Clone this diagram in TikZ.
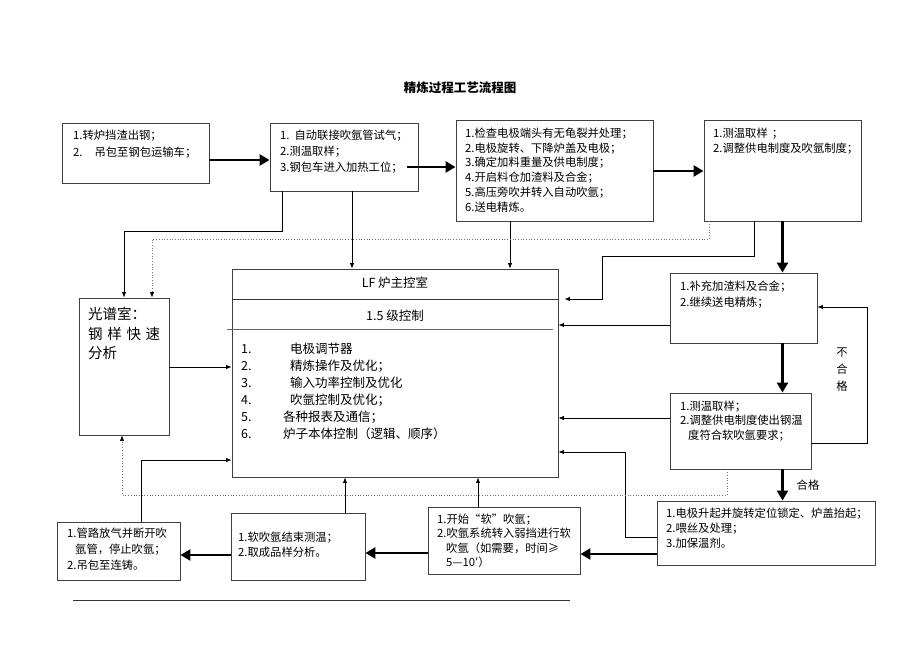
\documentclass[tikz,border=0pt]{standalone}
\usepackage{fontspec}
\setmainfont{Noto Sans CJK SC}
\usetikzlibrary{arrows.meta,fit,calc}
\newcommand\mytxt[2]{\parbox[t]{#1}{\raggedright #2}}
\begin{document}
\begin{tikzpicture}[x=1pt,y=-1pt,
  box/.style={draw=black!75, line width=0.9pt, inner sep=0pt},
  txt/.style={anchor=base west, inner sep=0pt},
  conn/.style={draw=black, line width=0.8pt, -{Latex[length=5.5pt,width=4.5pt]}},
  heavy/.style={draw=black, line width=2.8pt, -{Triangle[length=10pt,width=11pt]}},
  dotconn/.style={draw=black!55, line width=0.7pt, dotted, -{Latex[length=5.5pt,width=4.5pt,color=black]}},
  lbl/.style={inner sep=0pt, font=\fontsize{11.3}{17}\selectfont, align=center}]
\fill[white] (0,0) rectangle (920,651);
\useasboundingbox (0,0) rectangle (920,651);

% title
\node[font=\bfseries\fontsize{12.5}{15}\selectfont] (title) at (460,88) {精炼过程工艺流程图};

% boxes
\node[box, fit={(62,123) (209,183)}] (b1) {};
\node[box, fit={(270,123) (418,191)}] (b2) {};
\node[box, fit={(456,120) (653,221)}] (b3) {};
\node[box, fit={(704,120) (861,221)}] (b4) {};
\node[box, fit={(79,298) (169,435)}] (b5) {};
\node[box, fit={(232,269) (558,477)}] (lf) {};
\node[box, fit={(670,273) (817,343)}] (b6) {};
\node[box, fit={(670,393) (811,469)}] (b7) {};
\node[box, fit={(657,501) (875,565)}] (b8) {};
\node[box, fit={(428,507) (580,574)}] (b9) {};
\node[box, fit={(57,522) (180,580)}] (b10) {};
\node[box, fit={(231,513) (365,580)}] (b11) {};

% box texts
\node[txt] (t1) at (73,139.2) {\mytxt{140pt}{\fontsize{11.3}{17}\selectfont 1.转炉挡渣出钢；\\2.\hspace{12pt}吊包至钢包运输车；}};
\node[txt] (t2) at (280,139.2) {\mytxt{140pt}{\fontsize{11.3}{16}\selectfont 1.\hspace{5pt}自动联接吹氩管试气；\\2.测温取样；\\3.钢包车进入加热工位；}};
\node[txt] (t3) at (465,137.2) {\mytxt{190pt}{\fontsize{11.3}{14.8}\selectfont 1.检查电极端头有无龟裂并处理；\\2.电极旋转、下降炉盖及电极；\\3.确定加料重量及供电制度；\\4.开启料仓加渣料及合金；\\5.高压旁吹并转入自动吹氩；\\6.送电精炼。}};
\node[txt] (t4) at (713,137.2) {\mytxt{150pt}{\fontsize{11.3}{15}\selectfont 1.测温取样\hspace{4pt}；\\2.调整供电制度及吹氩制度；}};
\node[txt] (t6) at (680,290.2) {\mytxt{140pt}{\fontsize{11.3}{16}\selectfont 1.补充加渣料及合金；\\2.继续送电精炼；}};
\node[txt] (t7) at (680,410.2) {\mytxt{140pt}{\fontsize{11.3}{14.5}\selectfont 1.测温取样；\\2.调整供电制度使出钢温\\\hspace*{8pt}度符合软吹氩要求；}};
\node[txt] (t8) at (666,517.2) {\mytxt{210pt}{\fontsize{11.3}{15}\selectfont 1.电极升起并旋转定位锁定、炉盖抬起；\\2.喂丝及处理；\\3.加保温剂。}};
\node[txt] (t9) at (437,523.2) {\mytxt{150pt}{\fontsize{11.3}{14.4}\selectfont 1.开始“软”吹氩；\\2.吹氩系统转入弱挡进行软\\\hspace*{9pt}吹氩（如需要，时间≥\\\hspace*{9pt}5—10′）}};
\node[txt] (t10) at (67,537.2) {\mytxt{120pt}{\fontsize{11.3}{16}\selectfont 1.管路放气并断开吹\\\hspace*{8pt}氩管，停止吹氩；\\2.吊包至连铸。}};
\node[txt] (t11) at (238,541.2) {\mytxt{130pt}{\fontsize{11.3}{15}\selectfont 1.软吹氩结束测温；\\2.取成品样分析。}};
\node[txt] (t5) at (88,319.5) {\mytxt{85pt}{\fontsize{14.5}{19.5}\selectfont 光谱室：\\\makebox[72pt][s]{钢\hfill 样\hfill 快\hfill 速}\\分析}};

% LF box interior
\draw[line width=0.8pt, black!80] (lf.west |- 0,299) -- (lf.east |- 0,299);
\draw[line width=0.8pt, black!60] ($(lf.west |- 0,329)+(-5,0)$) -- ($(lf.east |- 0,329)+(-5,0)$);
\node[inner sep=0pt, font=\fontsize{12.5}{15}\selectfont] (lft) at (395,283) {LF 炉主控室};
\node[inner sep=0pt, font=\fontsize{12.5}{15}\selectfont] (lfs) at (395,316) {1.5 级控制};
\node[txt] (lfi) at (241,353.8) {\mytxt{310pt}{\fontsize{12.5}{17}\selectfont
\makebox[49pt][l]{1.}电极调节器\\
\makebox[49pt][l]{2.}精炼操作及优化；\\
\makebox[49pt][l]{3.}输入功率控制及优化\\
\makebox[49pt][l]{4.}吹氩控制及优化；\\
\makebox[42pt][l]{5.}各种报表及通信；\\
\makebox[42pt][l]{6.}炉子本体控制（逻辑、顺序）}};

% thick main-flow arrows
\draw[heavy] (b1.east |- 0,160) -- (b2.west |- 0,160);
\draw[heavy] ($(b2.east |- 0,167)+(-11,0)$) -- (b3.west |- 0,167);
\draw[heavy] (b3.east |- 0,171) -- (b4.west |- 0,171);
\draw[heavy] (b4.south) -- (b4.south |- b6.north);
\draw[heavy] (b6.south -| b4.south) -- (b4.south |- b7.north);
\draw[heavy] (b7.south -| b4.south) -- (b4.south |- b8.north);
\draw[heavy] (b8.west |- 0,554) -- (b9.east |- 0,554);
\draw[heavy] (b9.west |- 0,553) -- (b11.east |- 0,553);
\draw[heavy] (b11.west |- 0,555) -- (b10.east |- 0,555);

% labels
\node[lbl] (ng) at (842,370) {不\\合\\格};
\node[lbl] (ok) at (808,485) {合格};

% thin connectors
\draw[conn] (b2.south -| 282,0) |- (124,231) -- (b5.north -| 124,0);
\draw[conn] (b2.south -| 352,0) -- (lf.north -| 352,0);
\draw[conn] (b3.south -| 510,0) -- (lf.north -| 510,0);
\draw[conn, shorten >=6pt] (b4.south -| 754,0) |- (602,256) |- (lf.east |- 0,299);
\draw[conn] (b6.west |- 0,325) -- (lf.east |- 0,325);
\draw[conn] (b7.west |- 0,418) -- (lf.east |- 0,418);
\draw[conn] (b8.west |- 0,537) -| (625,452) -- (lf.east |- 0,452);
\draw[conn] (b5.east |- 0,367) -- (lf.west |- 0,367);
\draw[conn] (b10.north -| 141,0) |- (lf.west |- 0,460);
\draw[conn] (b11.north -| 345,0) -- (lf.south -| 345,0);
\draw[conn] (b9.north -| 478,0) -- (lf.south -| 478,0);
\draw[conn] (b7.east |- 0,443) -| (867,307) -- (b6.east |- 0,307);

% dotted connectors
\draw[dotconn] (b4.south -| 709,0) |- (152,239) -- (b5.north -| 152,0);
\draw[dotconn] (b7.south -| 727,0) |- (122,495) -- (b5.south -| 122,0);

% footer rule
\draw[line width=0.8pt, black!80] (73,600) -- (570,600);
\end{tikzpicture}
\end{document}
